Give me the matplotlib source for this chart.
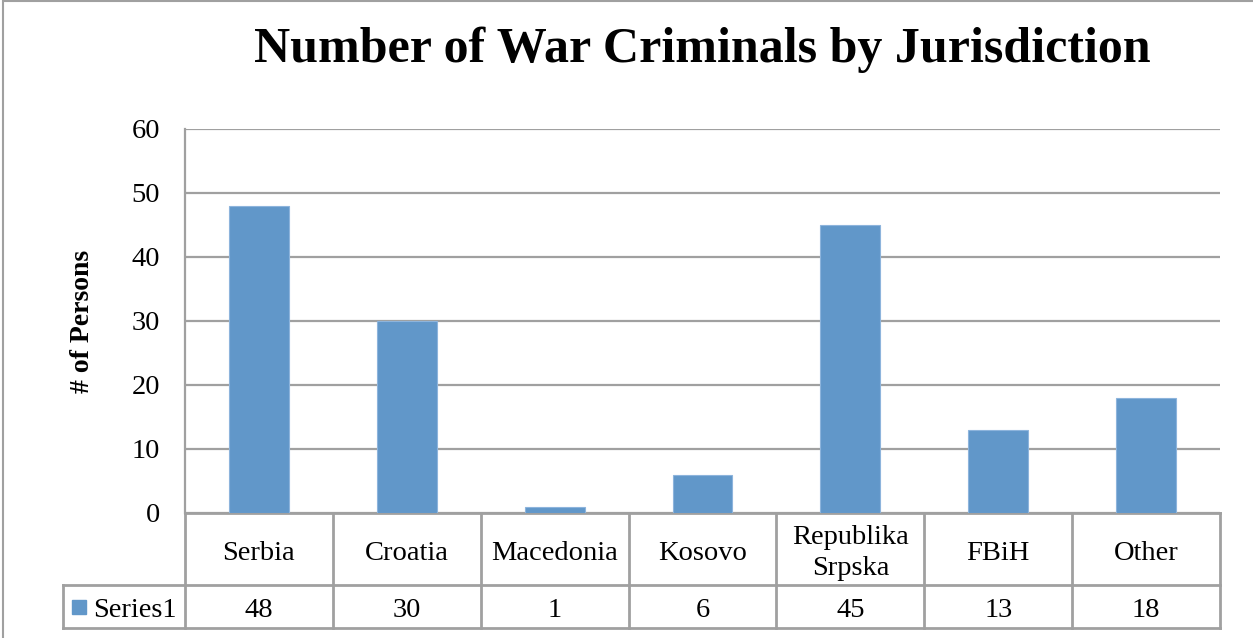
import matplotlib
matplotlib.use("Agg")
import matplotlib.pyplot as plt
from matplotlib.patches import Rectangle
import matplotlib.transforms as mtransforms

# data
categories = ["Serbia", "Croatia", "Macedonia", "Kosovo", "Republika\nSrpska", "FBiH", "Other"]
persons = [48, 30, 1, 6, 45, 13, 18]
series_name = "Series1"
yticks = [0, 10, 20, 30, 40, 50, 60]

BAR = "#6197c9"
GRID = "#a0a0a0"
FONT = ["DejaVu Serif Condensed", "Liberation Serif", "DejaVu Serif"]
plt.rcParams["font.family"] = FONT
FS = 20.5

W, H = 1253, 638
fig = plt.figure(figsize=(W / 100, H / 100), dpi=100)

# outer chart border
fig.patches.append(Rectangle((3 / W, -0.1), 1.2, 1 - 1 / H + 0.1, transform=fig.transFigure,
                             fill=False, edgecolor=GRID, lw=1.5))

left, right, top, bottom = 185, 1220, 129, 513
ax = fig.add_axes([left / W, 1 - bottom / H, (right - left) / W, (bottom - top) / H])

x = list(range(len(categories)))
ax.bar(x, persons, width=0.405, color=BAR, edgecolor="#8db4dc", linewidth=0.8, zorder=3)
ax.set_xlim(-0.5, len(categories) - 0.5)
ax.set_ylim(0, 60)
ax.set_yticks(yticks)
ax.set_yticklabels([str(t) for t in yticks], fontsize=FS)
ax.yaxis.grid(True, color=GRID, lw=1.6)
ax.set_axisbelow(True)
ax.tick_params(axis="y", length=0, pad=18)
ax.set_xticks([])
for s in ["top", "right", "bottom"]:
    ax.spines[s].set_visible(False)
ax.spines["left"].set_color(GRID)
ax.spines["left"].set_linewidth(1.6)

ax.set_ylabel("# of Persons", fontsize=20, fontweight="bold", labelpad=26)

fig.text(702 / W, 1 - 50 / H, "Number of War Criminals by Jurisdiction",
         ha="center", va="center", fontsize=36, fontweight="bold")

# data table below the axes
tr = mtransforms.blended_transform_factory(ax.transData, ax.transAxes)
row1 = -72 / 384
row2 = -115 / 384
label_left = -0.5 - (left - 63) / ((right - left) / len(categories))
n = len(categories)
kw = dict(color=GRID, lw=2, transform=tr, clip_on=False)
ax.plot([-0.5, n - 0.5], [0, 0], **kw)
ax.plot([label_left, n - 0.5], [row1, row1], **kw)
ax.plot([label_left, n - 0.5], [row2, row2], **kw)
for i in range(n + 1):
    ax.plot([i - 0.5, i - 0.5], [row2, 0], **kw)
ax.plot([label_left, label_left], [row2, row1], **kw)

shift = 4 / 384
for i, (c, v) in enumerate(zip(categories, persons)):
    ax.text(i, row1 / 2 - shift, c, transform=tr, ha="center", va="center", fontsize=FS,
            linespacing=1.3)
    ax.text(i, (row1 + row2) / 2 - shift, str(v), transform=tr, ha="center", va="center",
            fontsize=FS)

sw = 14 / ((right - left) / n)
ax.add_patch(Rectangle((label_left + 0.06, (row1 + row2) / 2 - 7 / 384), sw, 14 / 384,
                       transform=tr, color=BAR, clip_on=False))
ax.text(label_left + 0.205, (row1 + row2) / 2 - shift, series_name, transform=tr, ha="left",
        va="center", fontsize=FS)

fig.savefig("out.png", dpi=100)
